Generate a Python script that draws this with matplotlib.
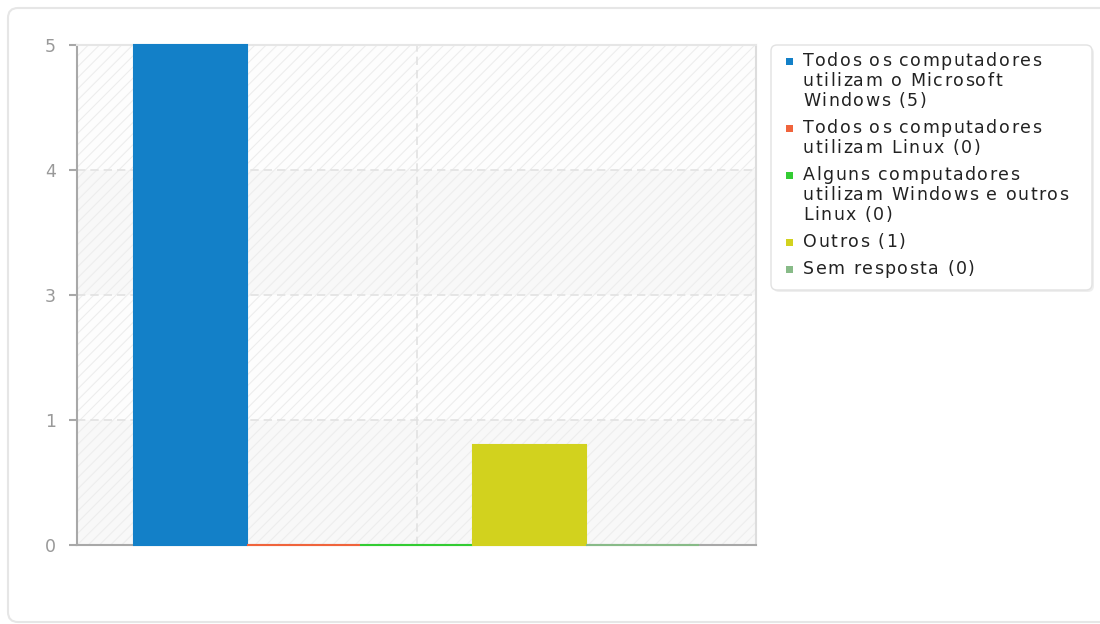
import textwrap
import numpy as np
import matplotlib
matplotlib.use("Agg")
import matplotlib.pyplot as plt
from matplotlib.patches import FancyBboxPatch, Rectangle
from matplotlib.transforms import IdentityTransform
from matplotlib.font_manager import FontProperties, findfont
from matplotlib.ft2font import FT2Font

# ── Data ──────────────────────────────────────────────────────────────────
categories = [
    "Todos os computadores utilizam o Microsoft Windows",
    "Todos os computadores utilizam Linux",
    "Alguns computadores utilizam Windows e outros Linux",
    "Outros",
    "Sem resposta",
]
counts = [5, 0, 0, 1, 0]
colors = ["#1380C8", "#F0643C", "#33CC33", "#D2D21E", "#88BB88"]
y_max = 5

W, H = 1100, 624
plt.rcParams['font.family'] = ['DejaVu Sans']
plt.rcParams['hatch.color'] = '#ededed'
plt.rcParams['hatch.linewidth'] = 0.8

fig = plt.figure(figsize=(W / 100, H / 100), dpi=100)
px = IdentityTransform()   # pixel coords, origin bottom-left


def box(x0, y0, x1, y1, **kw):
    # image coords (top-left origin) -> display pixels
    return FancyBboxPatch((x0, H - y1), x1 - x0, y1 - y0, transform=px, **kw)


# ── Card ──────────────────────────────────────────────────────────────────
fig.add_artist(box(8, 8, 1120, 622, boxstyle="round,pad=0,rounding_size=10",
                   facecolor='white', edgecolor='#e6e6e6', linewidth=1.5, zorder=0))

# ── Axes ──────────────────────────────────────────────────────────────────
ax = fig.add_axes([77 / W, 1 - 545 / H, (756 - 77) / W, (545 - 45) / H])
ax.set_facecolor('#fdfdfd')
x = np.arange(len(counts))
ax.set_xlim(-1, len(counts))
ax.set_ylim(0, y_max)

# alternating bands + light diagonal hatch behind the bars
yticks = np.linspace(0, y_max, 5)
for i in range(len(yticks) - 1):
    if i % 2 == 0:
        ax.axhspan(yticks[i], yticks[i + 1], color='#f8f8f8', zorder=0, linewidth=0)
ax.add_patch(Rectangle((0, 0), 1, 1, transform=ax.transAxes, facecolor='none',
                       edgecolor='#ededed', hatch='///', linewidth=0, zorder=0.5))

ax.set_yticks(yticks)
ax.set_yticklabels([str(int(np.floor(v + 0.5))) for v in yticks])
ax.set_xticks([np.mean(ax.get_xlim())])
ax.set_xticklabels([])
ax.grid(True, color='#e2e2e2', linestyle=(0, (5, 3)), linewidth=1.2, zorder=1)

ax.tick_params(axis='y', direction='out', length=6, width=1.5, color='#a8a8a8',
               labelcolor='#999999', labelsize=12.5, pad=9)
ax.tick_params(axis='x', length=0)

for side, c in [('left', '#a8a8a8'), ('bottom', '#a8a8a8'),
                ('right', '#dddddd'), ('top', '#e6e6e6')]:
    ax.spines[side].set_color(c)
    ax.spines[side].set_linewidth(1.5)

ax.bar(x, counts, width=1, color=colors, edgecolor=colors, linewidth=1.5,
       zorder=3, clip_on=False)

# ── Legend (drawn by hand: wrapped labels with letter spacing) ────────────
fig.add_artist(box(773, 47, 1094, 292, boxstyle="round,pad=0,rounding_size=6",
                   facecolor='#e4e4e4', edgecolor='none', zorder=1, alpha=0.6))
fig.add_artist(box(771, 45, 1092, 290, boxstyle="round,pad=0,rounding_size=6",
                   facecolor='white', edgecolor='#e2e2e2', linewidth=1, zorder=2))

leg_size = 12.5
spacing = 1.5
ft = FT2Font(findfont(FontProperties(family='DejaVu Sans')))
ft.set_size(leg_size, 100)


def spaced_text(x0, yb, s):
    xc = x0
    for ch in s:
        fig.text(xc / W, 1 - yb / H, ch, fontsize=leg_size, color='#222222',
                 va='baseline', ha='left', zorder=4)
        g = ft.load_char(ord(ch))
        xc += g.linearHoriAdvance / 65536 + spacing


base = 66
for cat, n, c in zip(categories, counts, colors):
    lines = textwrap.wrap(f"{cat} ({n})", 25)
    fig.add_artist(Rectangle((786, H - base + 1), 7, 7, transform=px,
                             facecolor=c, edgecolor='none', zorder=3))
    for line in lines:
        spaced_text(803, base, line)
        base += 20
    base += 7

fig.savefig("out.png", dpi=100)
